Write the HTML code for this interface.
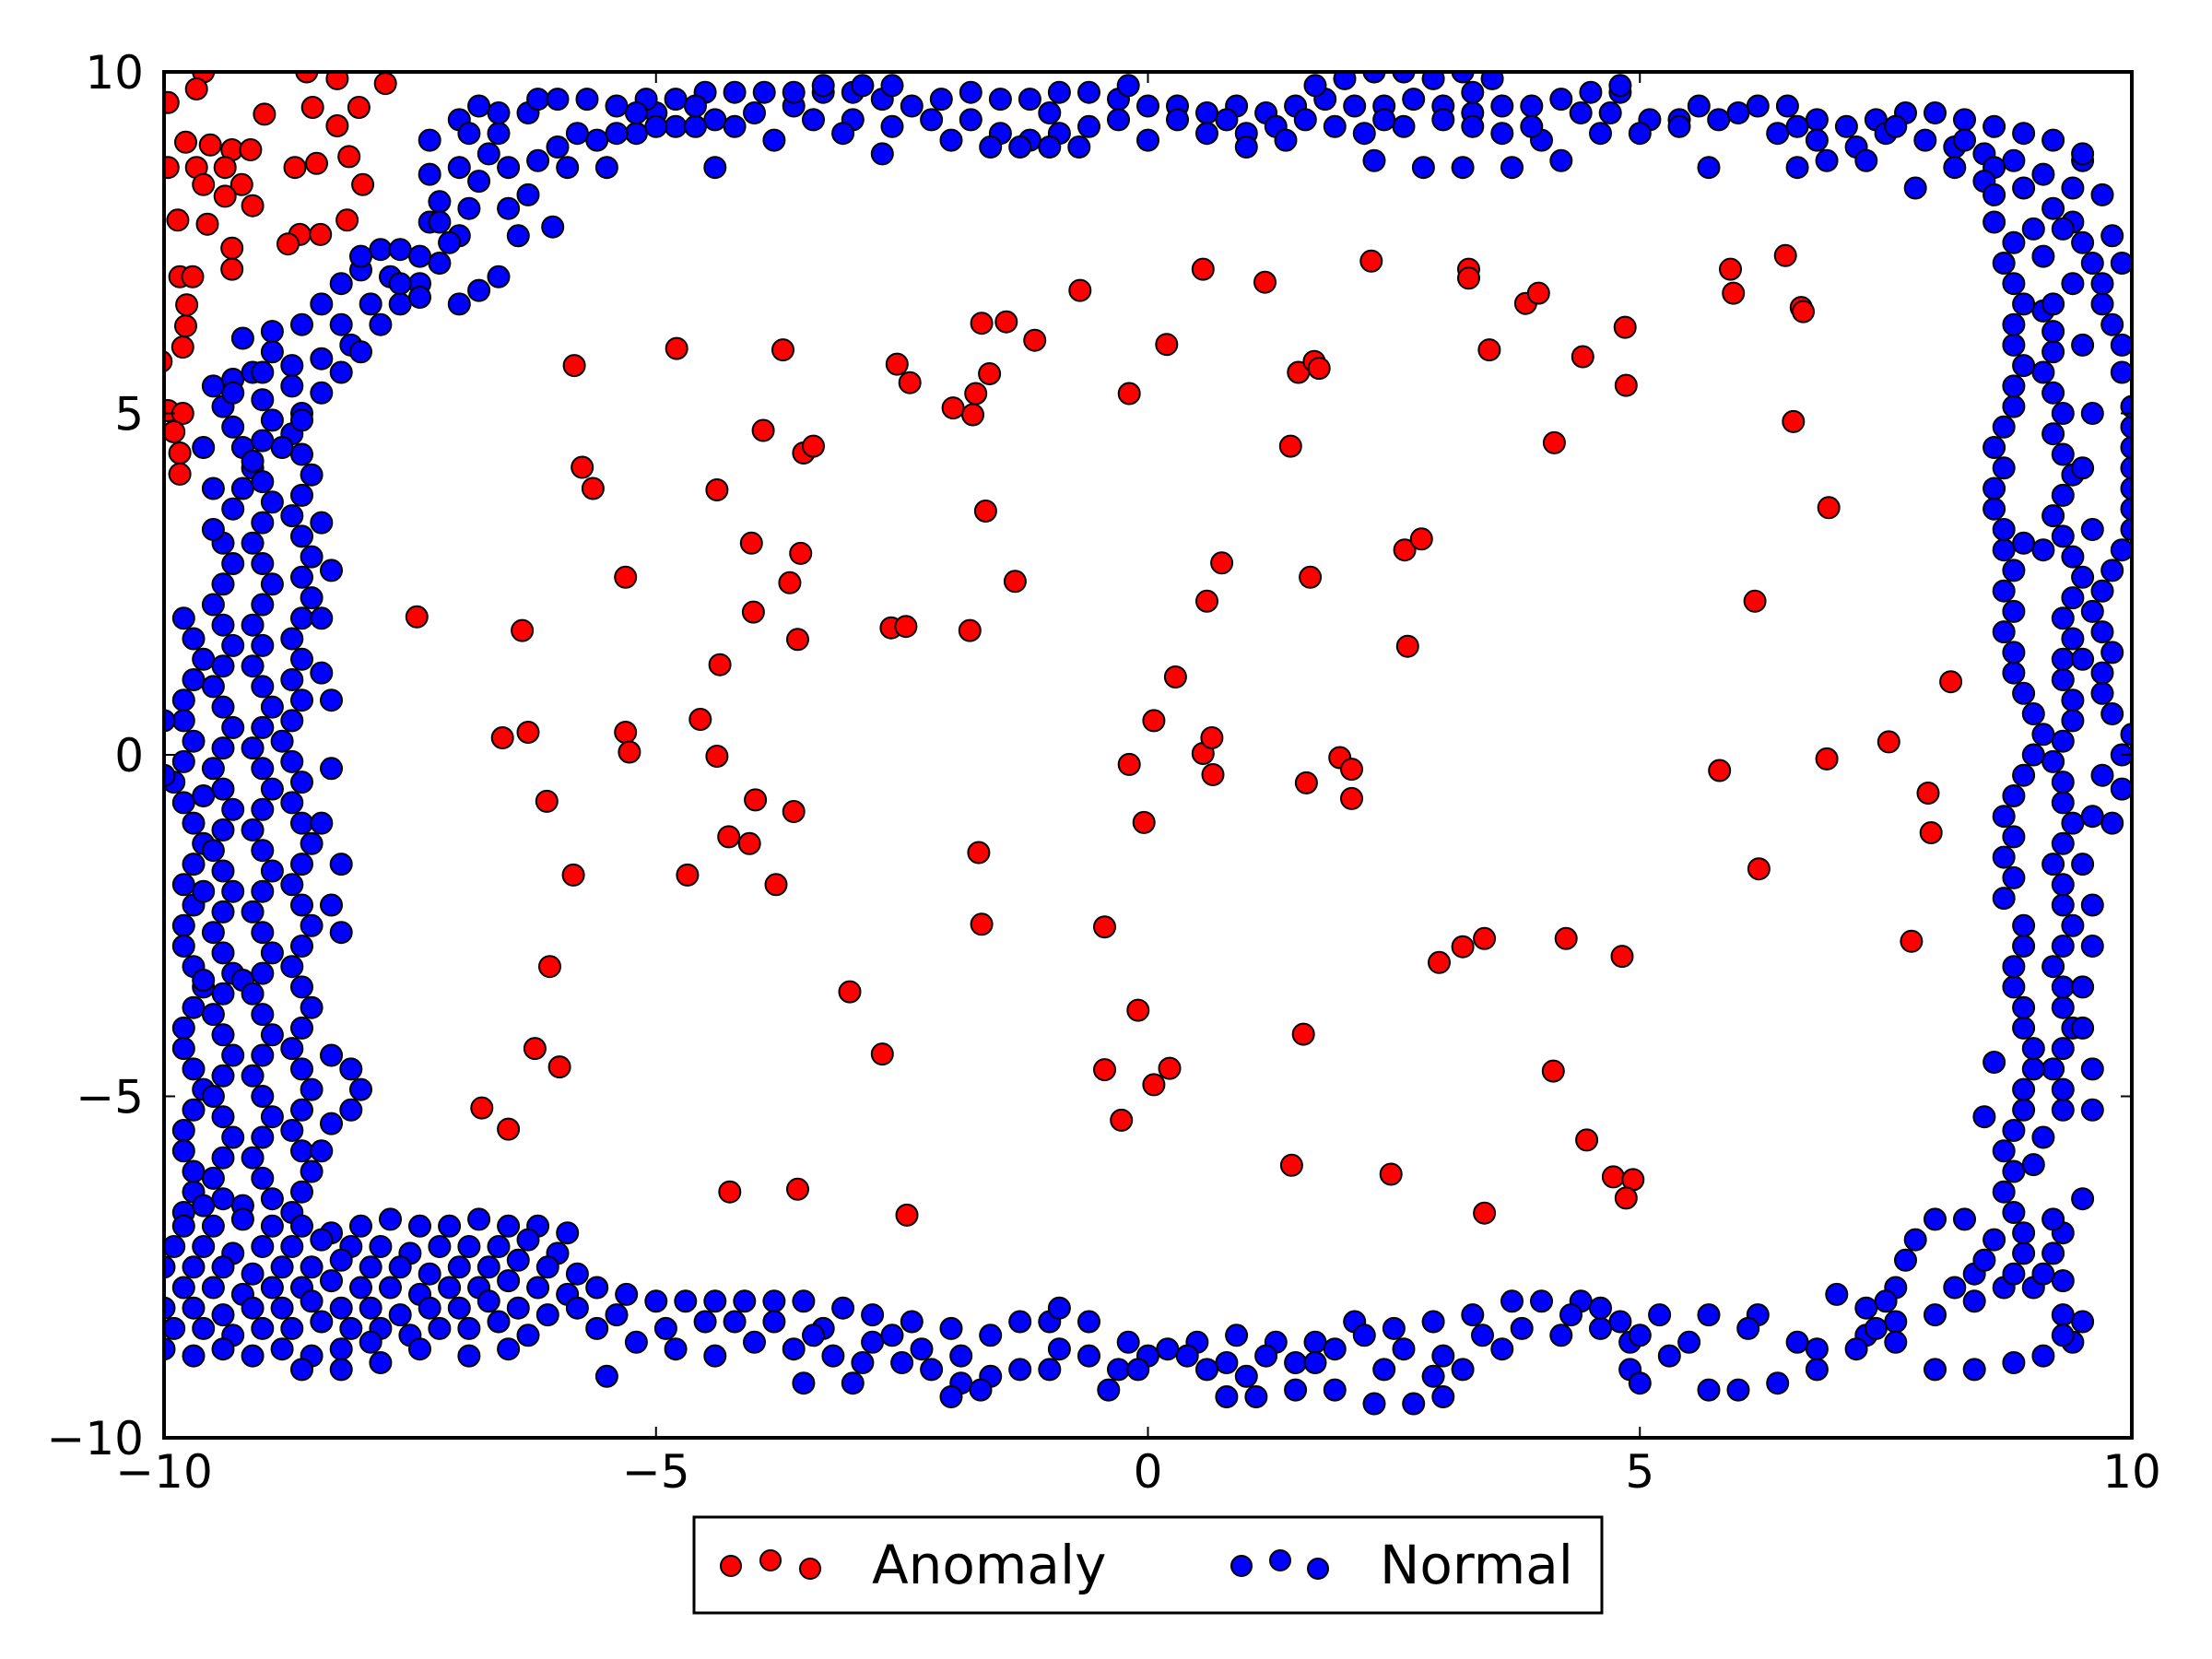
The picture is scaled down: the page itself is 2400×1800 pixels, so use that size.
<!DOCTYPE html>
<html><head><meta charset="utf-8"><style>
html,body{margin:0;padding:0;background:#fff;}
svg{display:block;font-family:"DejaVu Sans","Liberation Sans",sans-serif;}
</style></head><body>
<svg id="chart" width="2400" height="1800" viewBox="0 0 2400 1800" xmlns="http://www.w3.org/2000/svg">
<defs><clipPath id="plotclip"><rect x="178" y="78" width="2135" height="1482"/></clipPath></defs>
<rect x="0" y="0" width="2400" height="1800" fill="#fff"/>
<g id="marks" clip-path="url(#plotclip)"></g>
<rect x="178" y="78" width="2135" height="1482" fill="none" stroke="#000" stroke-width="4"/>
<g id="ticks"></g>
<g>
<rect x="753" y="1646" width="985" height="104" fill="#fff" stroke="#000" stroke-width="3"/>
<g>
<circle cx="793" cy="1699" r="11" fill="#ff0000" stroke="#000" stroke-width="2"/>
<circle cx="836" cy="1693" r="11" fill="#ff0000" stroke="#000" stroke-width="2"/>
<circle cx="879" cy="1702" r="11" fill="#ff0000" stroke="#000" stroke-width="2"/>
<text x="946" y="1718" font-size="58">Anomaly</text>
</g>
<g>
<circle cx="1347" cy="1699" r="11" fill="#0000ff" stroke="#000" stroke-width="2"/>
<circle cx="1389" cy="1693" r="11" fill="#0000ff" stroke="#000" stroke-width="2"/>
<circle cx="1430" cy="1702" r="11" fill="#0000ff" stroke="#000" stroke-width="2"/>
<text x="1497" y="1718" font-size="58">Normal</text>
</g>
</g>
</svg>
<script>
const xTicks = [-10, -5, 0, 5, 10];
const yTicks = [-10, -5, 0, 5, 10];
const xTickLabels = ["\u221210", "\u22125", "0", "5", "10"];
const yTickLabels = ["\u221210", "\u22125", "0", "5", "10"];
const anomalyPoints = [
[-9.6,10],[-8.55,10],[-8.24,9.9],[-7.75,9.83],[-9.96,9.55],[-9.67,9.75],[-8.98,9.38],[-8.49,9.48],[-8.24,9.21],[-8.02,9.48],
[-9.78,8.97],[-9.53,8.93],[-9.31,8.86],[-9.12,8.86],[-9.96,8.6],[-9.67,8.6],[-9.38,8.6],[-9.21,8.35],[-8.67,8.6],[-8.45,8.66],
[-8.12,8.76],[-7.98,8.35],[-9.6,8.35],[-9.38,8.18],[-9.1,8.04],[-9.86,7.83],[-9.56,7.77],[-8.14,7.83],[-8.62,7.62],[-8.41,7.62],
[-8.74,7.48],[-9.31,7.42],[-9.31,7.11],[-9.84,7.0],[-9.71,7.0],[-9.77,6.59],[-9.78,6.28],[-9.81,5.97],[-10.03,5.76],[-9.96,5.04],
[-9.81,5.0],[-9.9,4.73],[-9.84,4.42],[-9.84,4.11],
[-7.43,2.02],[-6.36,1.82],[-6.56,0.25],[-6.3,0.33],[-6.11,-0.68],[-5.84,-1.76],[-6.08,-3.1],[-6.23,-4.3],[-5.98,-4.57],[-6.77,-5.17],
[-6.5,-5.48],[-5.83,5.7],[-5.75,4.21],[-5.64,3.9],[-5.31,2.6],[-5.31,0.33],[-5.27,0.04],[-4.79,5.95],[-4.38,3.88],[-4.35,1.32],
[-4.55,0.52],[-4.38,-0.02],[-4.68,-1.76],[-4.26,-1.2],[-4.05,-1.3],[-3.99,-0.66],[-4.25,-6.4],[-3.71,5.93],[-3.91,4.75],[-3.5,4.42],
[-3.4,4.52],[-4.03,3.1],[-3.53,2.95],[-3.64,2.52],[-4.01,2.09],[-3.56,1.69],[-3.6,-0.83],[-3.78,-1.9],[-3.56,-6.36],[-3.03,-3.47],
[-2.7,-4.38],[-2.55,5.72],[-2.42,5.45],[-2.61,1.86],[-2.46,1.88],[-2.45,-6.74],[-1.98,5.08],[-1.78,4.98],[-1.75,5.29],[-1.69,6.32],
[-1.44,6.34],[-1.61,5.58],[-1.65,3.57],[-1.81,1.82],[-1.72,-1.43],[-1.69,-2.48],[-1.35,2.54],[-1.15,6.07],[-0.69,6.8],[-0.44,-2.52],
[-0.44,-4.61],[-0.27,-5.35],[-0.1,-3.74],[-0.19,5.29],[-0.19,-0.14],[-0.04,-0.99],[0.06,0.5],[0.06,-4.83],[0.22,-4.59],[0.19,6.01],
[0.28,1.14],[0.56,7.11],[0.6,2.25],[0.75,2.81],[0.56,0.02],[0.65,0.25],[0.66,-0.29],[1.19,6.92],[1.45,4.52],[1.53,5.6],
[1.69,5.76],[1.74,5.66],[1.65,2.6],[1.61,-0.41],[1.58,-4.09],[1.46,-6.01],[1.95,-0.04],[2.07,-0.21],[2.07,-0.64],[2.27,7.23],
[2.47,-6.14],[2.61,3.0],[2.78,3.16],[2.64,1.59],[2.96,-3.04],[3.2,-2.81],[3.42,-2.69],[3.26,7.11],[3.26,6.98],[3.47,5.93],
[3.42,-6.71],[3.84,6.61],[3.97,6.76],[4.13,4.57],[4.42,5.83],[4.25,-2.69],[4.12,-4.63],[4.46,-5.64],[4.73,-6.18],[4.82,-2.95],
[4.85,6.26],[4.86,5.41],[4.93,-6.22],[4.86,-6.49],[5.81,-0.23],[5.92,7.11],[5.95,6.76],[6.17,2.25],[6.21,-1.67],[6.48,7.31],
[6.56,4.88],[6.64,6.55],[6.66,6.49],[6.92,3.62],[6.9,-0.06],[7.53,0.19],[7.76,-2.73],[7.93,-0.56],[7.96,-1.14],[8.16,1.07]
];
const normalPoints = [
[-9.8,2.0],[-9.7,1.7],[-9.6,1.4],[-9.7,1.1],[-9.8,0.8],[-9.8,0.5],[-9.7,0.2],[-9.8,-0.1],[-9.9,-0.4],[-9.8,-0.7],[-9.7,-1.0],[-9.6,-1.3],[-9.7,-1.6],[-9.8,-1.9],[-9.7,-2.2],[-9.8,-2.5],[-9.8,-2.8],[-9.7,-3.1],[-9.6,-3.4],[-9.7,-3.7],[-9.8,-4.0],[-9.8,-4.3],[-9.7,-4.6],[-9.6,-4.9],[-9.7,-5.2],[-9.8,-5.5],[-9.8,-5.8],[-9.7,-6.1],[-9.7,-6.4],[-9.8,-6.7],
[-9.4,1.9],[-9.3,1.6],[-9.4,1.3],[-9.5,1.0],[-9.4,0.7],[-9.3,0.4],[-9.4,0.1],[-9.5,-0.2],[-9.4,-0.5],[-9.3,-0.8],[-9.4,-1.1],[-9.5,-1.4],[-9.4,-1.7],[-9.3,-2.0],[-9.4,-2.3],[-9.5,-2.6],[-9.4,-2.9],[-9.3,-3.2],[-9.4,-3.5],[-9.5,-3.8],[-9.4,-4.1],[-9.3,-4.4],[-9.4,-4.7],[-9.5,-5.0],[-9.4,-5.3],[-9.3,-5.6],[-9.4,-5.9],[-9.5,-6.2],[-9.4,-6.5],
[-9.6,-3.3],[-9.2,-3.3],[-9.6,-6.6],[-9.2,-6.6],[-10.0,0.5],[-10.0,-0.3],
[-9.5,2.2],[-9.4,2.5],[-9.3,2.8],[-9.4,3.1],[-9.5,3.3],[-9.3,3.6],[-9.2,3.9],[-9.1,4.2],[-9.2,4.5],[-9.3,4.8],[-9.4,5.1],[-9.5,5.4],[-9.3,5.5],[-9.1,5.6],
[-9.0,5.2],[-8.9,4.9],[-9.0,4.6],[-9.1,4.3],[-9.0,4.0],[-8.9,3.7],[-9.0,3.4],[-9.1,3.1],[-9.0,2.8],[-8.9,2.5],[-9.0,2.2],[-9.1,1.9],[-9.0,1.6],[-9.1,1.3],[-9.0,1.0],[-8.9,0.7],[-9.0,0.4],[-9.1,0.1],[-9.0,-0.2],[-8.9,-0.5],[-9.0,-0.8],[-9.1,-1.1],[-9.0,-1.4],[-8.9,-1.7],[-9.0,-2.0],[-9.1,-2.3],[-9.0,-2.6],[-8.9,-2.9],[-9.0,-3.2],[-9.1,-3.5],[-9.0,-3.8],[-8.9,-4.1],[-9.0,-4.4],[-9.1,-4.7],[-9.0,-5.0],[-8.9,-5.3],[-9.0,-5.6],[-9.1,-5.9],[-9.0,-6.2],[-8.9,-6.5],
[-8.6,5.0],[-8.7,4.7],[-8.6,4.4],[-8.5,4.1],[-8.6,3.8],[-8.7,3.5],[-8.6,3.2],[-8.5,2.9],[-8.6,2.6],[-8.5,2.3],[-8.6,2.0],[-8.7,1.7],[-8.6,1.4],[-8.7,1.1],[-8.6,0.8],[-8.7,0.5],[-8.8,0.2],[-8.7,-0.1],[-8.6,-0.4],[-8.7,-0.7],[-8.6,-1.0],[-8.5,-1.3],[-8.6,-1.6],[-8.7,-1.9],[-8.6,-2.2],[-8.5,-2.5],[-8.6,-2.8],[-8.7,-3.1],[-8.6,-3.4],[-8.5,-3.7],[-8.6,-4.0],[-8.7,-4.3],[-8.6,-4.6],[-8.5,-4.9],[-8.6,-5.2],[-8.7,-5.5],[-8.6,-5.8],[-8.5,-6.1],[-8.6,-6.4],[-8.7,-6.7],
[-8.4,3.4],[-8.3,2.7],[-8.3,-2.2],[-8.2,-2.6],[-8.3,-4.4],[-8.1,-4.6],[-8.0,-4.9],[-8.1,-5.2],[-8.3,-5.4],[-8.4,-5.8],[-8.4,2.0],[-8.4,1.2],[-8.3,0.8],
[-8.3,-0.2],[-8.4,-1.0],[-8.2,-1.6],[-9.6,4.5],[-9.5,3.9],[-9.6,-0.6],[-9.6,-2.0],
[-9.3,5.3],[-9.0,5.6],[-8.7,5.7],[-8.4,5.8],[-8.1,6.0],[-7.8,6.3],[-7.6,6.6],[-7.4,6.9],[-7.2,7.2],[-7.0,7.6],[-6.9,8.0],[-6.8,8.4],[-6.7,8.8],[-6.6,9.1],[-6.3,9.4],
[-8.8,4.5],[-8.6,4.9],[-8.4,5.3],[-8.2,5.6],[-8.0,5.9],
[-9.2,6.1],[-8.9,6.2],[-8.6,6.3],[-8.4,6.6],[-8.2,6.9],[-8.0,7.1],[-7.8,7.4],[-7.6,7.4],[-7.4,7.3],[-7.1,7.5],[-7.3,7.8],[-7.2,8.1],[-7.3,8.5],[-7.3,9.0],[-7.0,9.3],[-6.6,9.4],[-6.2,9.6],
[-8.0,7.3],[-7.7,7.0],[-7.4,6.7],[-7.0,6.6],[-6.8,6.8],[-6.6,7.0],[-6.4,7.6],[-6.3,8.2],[-6.2,8.7],[-6.0,8.9],[-5.6,9.0],[-5.2,9.1],[-4.8,9.2],[-4.4,9.3],[-4.0,9.4],[-3.6,9.5],[-6.05,7.73],[-4.4,8.6],
[-7.9,6.6],[-7.6,6.9],[-7.2,7.8],[-7.0,8.6],[-6.9,9.1],[-6.5,8.0],[-6.5,8.6],[-8.2,6.3],[-8.7,5.4],[-8.9,5.9],[-6.8,9.5],[-5.0,9.4],
[-9.8,-6.9],[-9.5,-6.9],[-9.2,-6.8],[-8.9,-6.9],[-8.6,-6.9],[-8.3,-7.0],[-8.0,-6.9],[-7.7,-6.8],[-7.4,-6.9],[-7.1,-6.9],[-6.8,-6.8],[-6.5,-6.9],[-6.2,-6.9],[-5.9,-7.0],
[-9.9,-7.2],[-9.6,-7.2],[-9.3,-7.3],[-9.0,-7.2],[-8.7,-7.2],[-8.4,-7.1],[-8.1,-7.2],[-7.8,-7.2],[-7.5,-7.3],[-7.2,-7.2],[-6.9,-7.2],[-6.6,-7.2],[-6.3,-7.1],[-6.0,-7.3],
[-10.0,-7.5],[-9.7,-7.5],[-9.4,-7.5],[-9.1,-7.6],[-8.8,-7.5],[-8.5,-7.5],[-8.2,-7.4],[-7.9,-7.5],[-7.6,-7.5],[-7.3,-7.6],[-7.0,-7.5],[-6.7,-7.5],[-6.4,-7.4],[-6.1,-7.5],[-5.8,-7.6],
[-9.8,-7.8],[-9.5,-7.8],[-9.2,-7.9],[-8.9,-7.8],[-8.6,-7.8],[-8.3,-7.7],[-8.0,-7.8],[-7.7,-7.8],[-7.4,-7.9],[-7.1,-7.8],[-6.8,-7.8],[-6.5,-7.7],[-6.2,-7.8],[-5.9,-7.9],[-5.6,-7.8],
[-10.0,-8.1],[-9.7,-8.1],[-9.4,-8.2],[-9.1,-8.1],[-8.8,-8.1],[-8.5,-8.0],[-8.2,-8.1],[-7.9,-8.1],[-7.6,-8.2],[-7.3,-8.1],[-7.0,-8.1],[-6.7,-8.0],[-6.4,-8.1],[-6.1,-8.2],
[-9.9,-8.4],[-9.6,-8.4],[-9.3,-8.5],[-9.0,-8.4],[-8.7,-8.4],[-8.4,-8.3],[-8.1,-8.4],[-7.8,-8.4],[-7.5,-8.5],[-7.2,-8.4],[-6.9,-8.4],[-6.6,-8.3],[-6.3,-8.5],
[-10.0,-8.7],[-9.7,-8.8],[-9.4,-8.7],[-9.1,-8.8],[-8.8,-8.7],[-8.5,-8.8],[-8.2,-8.7],[-7.9,-8.6],[-7.4,-8.7],[-6.9,-8.8],[-6.5,-8.7],[-8.6,-9.0],[-8.2,-9.0],[-7.8,-8.9],
[-5.3,-7.9],[-5.0,-8.0],[-4.7,-8.0],[-4.4,-8.0],[-4.1,-8.0],[-3.8,-8.0],[-3.5,-8.0],[-3.1,-8.1],[-2.8,-8.2],[-2.4,-8.3],[-2.0,-8.4],[-1.6,-8.5],[-1.3,-8.3],[-1.0,-8.3],[-0.6,-8.3],[-0.2,-8.6],[0.2,-8.7],[0.5,-8.6],[0.9,-8.5],[1.3,-8.6],[1.7,-8.6],[2.1,-8.3],[2.5,-8.4],[2.9,-8.3],[3.3,-8.2],[3.7,-8.0],[4.0,-8.0],[4.4,-8.0],[4.8,-8.3],[5.2,-8.2],[5.7,-8.2],[6.2,-8.2],[6.6,-8.6],[7.0,-7.9],[7.3,-8.1],[7.6,-8.3],[8.0,-8.2],[8.4,-8.0],[8.7,-7.8],[9.0,-7.8],[9.3,-7.7],
[-5.6,-8.4],[-5.2,-8.6],[-4.8,-8.7],[-4.4,-8.8],[-4.0,-8.6],[-3.6,-8.7],[-3.2,-8.8],[-2.8,-8.6],[-2.5,-8.9],[-2.2,-9.0],[-1.9,-9.2],[-1.6,-9.1],[-1.3,-9.0],[-0.9,-8.7],[-0.6,-8.8],[-0.3,-9.0],[0.0,-8.8],[0.4,-8.8],[0.8,-8.9],[1.2,-8.8],[1.5,-8.9],[1.9,-8.7],[2.2,-8.5],[2.6,-8.7],[3.0,-8.8],[3.4,-8.5],[3.8,-8.4],[4.2,-8.5],[4.6,-8.4],[4.9,-8.6],[5.3,-8.8],[5.7,-9.3],[6.0,-9.3],[6.4,-9.2],[6.8,-8.7],[7.3,-8.5],[7.6,-8.6],[8.0,-9.0],[8.4,-9.0],[8.8,-8.9],[9.1,-8.8],[9.4,-8.6],[9.5,-8.3],
[-5.5,-9.1],[-3.5,-9.2],[-3.0,-9.2],[-2.0,-9.4],[-1.7,-9.3],[-0.4,-9.3],[0.8,-9.4],[1.1,-9.4],[1.5,-9.3],[1.9,-9.3],[2.3,-9.5],[2.7,-9.5],[3.0,-9.4],[2.9,-9.1],[4.9,-9.0],[5.0,-9.2],
[-4.5,-8.3],[-3.8,-8.3],[-3.3,-8.4],[-2.6,-8.5],[-0.9,-8.1],
[-5.8,-8.1],[-5.4,-8.2],[-4.9,-8.4],[-4.2,-8.3],[-3.4,-8.5],[-2.9,-8.9],[-2.3,-8.7],[-1.9,-8.8],[-1.0,-9.0],[-0.1,-9.0],[0.6,-9.0],[1.0,-9.1],[1.7,-8.9],[2.4,-9.0],[3.2,-9.0],[3.6,-8.7],[4.3,-8.2],[4.6,-8.1],[5.0,-8.5],[5.5,-8.6],[6.1,-8.4],[6.8,-9.0],[7.2,-8.7],
[9.3,-5.2],[9.3,-4.9],[9.2,-4.6],[9.3,-4.3],[9.4,-4.0],[9.3,-3.7],[9.3,-3.4],[9.2,-3.1],[9.3,-2.8],[9.4,-2.5],[9.3,-2.2],[9.3,-1.9],[9.2,-1.6],[9.3,-1.3],[9.4,-1.0],[9.3,-0.7],[9.3,-0.4],[9.2,-0.1],[9.3,0.2],[9.4,0.5],[9.4,0.8],[9.3,1.1],[9.3,1.4],[9.4,1.7],[9.3,2.0],[9.4,2.3],[9.5,2.6],[9.4,2.9],[9.3,3.2],[9.2,3.5],[9.3,3.8],[9.4,4.1],[9.3,4.4],[9.2,4.7],[9.3,5.0],[9.2,5.3],[9.1,5.6],[9.2,5.9],[9.2,6.2],[9.1,6.5],
[9.6,-5.2],[9.6,-4.6],[9.5,-4.0],[9.5,-3.4],[9.6,-2.8],[9.6,-2.2],[9.5,-1.6],[9.6,-0.9],
[8.8,-7.6],[8.9,-7.3],[8.9,-7.0],[8.8,-6.7],[8.7,-6.4],[8.8,-6.1],[8.7,-5.8],[8.8,-5.5],[8.9,-5.2],[8.9,-4.9],[9.0,-4.6],[9.0,-4.3],[8.9,-4.0],[8.9,-3.7],[8.8,-3.4],[8.8,-3.1],[8.9,-2.8],[8.9,-2.5],[8.7,-2.1],[8.8,-1.8],[8.7,-1.5],[8.8,-1.2],[8.7,-0.9],[8.8,-0.6],[8.9,-0.3],[9.0,0.0],[9.1,0.3],[9.0,0.6],[8.9,0.9],[8.8,1.2],[8.8,1.5],[8.7,1.8],[8.8,2.1],[8.7,2.4],[8.8,2.7],[8.7,3.0],[8.7,3.3],[8.6,3.6],[8.6,3.9],[8.7,4.2],[8.6,4.5],[8.7,4.8],[8.8,5.1],[8.8,5.4],[8.9,5.7],[8.8,6.0],[8.8,6.3],[8.9,6.6],[8.8,6.9],[8.7,7.2],[8.8,7.5],[9.0,7.7],
[9.8,-1.0],[9.9,-0.5],[9.9,0.0],[10.0,0.3],[9.8,0.6],[9.7,0.9],[9.7,1.2],[9.8,1.5],[9.7,1.8],[9.6,2.1],[9.7,2.4],[9.8,2.7],[9.9,3.0],[10.0,3.3],[10.0,3.6],[10.0,3.9],[10.0,4.2],[10.0,4.5],[10.0,4.8],[10.0,5.1],[9.9,5.6],[9.9,6.0],[9.8,6.3],[9.7,6.6],[9.7,6.9],[9.6,7.2],[9.5,7.5],[9.4,7.8],[9.2,8.0],[9.4,8.3],[9.7,8.2],[9.8,7.6],[9.9,7.2],[9.5,8.7],
[9.3,7.7],[9.2,6.6],[8.9,3.1],[9.1,3.0],
[9.5,-6.5],[9.0,-6.0],[9.1,-5.6],[9.5,1.4],[9.6,3.3],[9.5,4.2],[9.6,5.0],[9.5,6.0],[9.4,6.9],[9.1,7.3],[8.6,7.8],[9.7,-0.3],[8.6,-4.5],[8.5,-5.3],
[8.2,-7.8],[8.4,-7.6],[8.5,-7.4],[8.6,-7.1],[8.3,-6.8],[8.0,-6.8],[7.8,-7.1],[7.7,-7.4],[7.6,-7.8],[7.4,-8.4],[7.5,-8.0],[9.1,-7.6],[9.2,-7.3],[9.3,-7.0],[9.2,-6.8],[9.3,-8.2],[9.3,-8.5],
[-6.0,9.6],[-5.7,9.6],[-5.4,9.5],[-5.1,9.6],[-4.8,9.6],[-4.5,9.7],[-4.2,9.7],[-3.9,9.7],[-3.6,9.7],[-3.3,9.7],[-3.0,9.7],[-2.7,9.6],[-2.4,9.5],[-2.1,9.6],[-1.8,9.7],[-1.5,9.6],[-1.2,9.6],[-0.9,9.7],[-0.6,9.7],[-0.3,9.6],[0.0,9.5],[0.3,9.5],[0.6,9.4],[0.9,9.5],[1.2,9.4],[1.5,9.5],[1.8,9.6],[2.1,9.5],[2.4,9.5],[2.7,9.6],[3.0,9.5],[3.3,9.4],[3.6,9.5],[3.9,9.5],[4.2,9.6],[4.5,9.7],[4.8,9.7],[5.1,9.3],[5.4,9.3],[5.8,9.3],[6.2,9.5],[6.5,9.5],[6.8,9.3],[7.1,9.2],[7.4,9.3],[7.7,9.4],[8.0,9.4],[8.3,9.3],[8.6,9.2],[8.9,9.1],[9.2,9.0],[9.5,8.8],
[-2.9,9.8],[-2.6,9.8],[-3.3,9.8],[1.7,9.8],[2.0,9.9],[2.3,10.0],[2.6,10.0],[2.9,9.9],[3.2,10.0],[3.5,9.9],[4.8,9.8],[-0.2,9.8],
[-5.8,9.1],[-5.4,9.1],[-5.0,9.2],[-4.6,9.2],[-4.2,9.2],[-3.8,9.0],[-3.4,9.3],[-3.0,9.3],[-2.6,9.2],[-2.2,9.3],[-1.8,9.3],[-1.5,9.1],[-1.2,9.0],[-0.9,9.1],[-0.6,9.2],[-0.3,9.3],[0.0,9.0],[0.3,9.3],[0.6,9.1],[1.0,9.1],[1.3,9.2],[1.6,9.3],[1.9,9.2],[2.2,9.1],[2.6,9.2],[3.0,9.3],[3.3,9.2],[3.6,9.1],[4.0,9.0],[4.4,9.4],[4.7,9.4],[5.0,9.1],[5.4,9.2],[6.0,9.4],[6.4,9.1],[6.8,9.0],[7.2,8.9],[7.5,9.1],[7.9,9.0],[8.2,8.9],[8.5,8.8],[8.8,8.7],
[-5.2,9.4],[-4.6,9.5],[-3.1,9.1],[-2.0,9.0],[-1.0,9.4],[0.8,9.3],[1.4,9.0],[2.4,9.3],[3.3,9.7],[3.9,9.2],[4.6,9.1],[5.6,9.5],[6.6,9.2],[7.6,9.2],[8.3,9.0],[8.6,8.6],
[-5.9,8.6],[-5.5,8.6],[-2.7,8.8],[-1.6,8.9],[-1.3,8.9],[-1.0,8.9],[-0.7,8.9],[1.0,8.9],[2.3,8.7],[2.8,8.6],[3.2,8.6],[3.7,8.6],[4.2,8.7],[5.7,8.6],[6.6,8.6],[6.9,8.7],[7.3,8.7],[7.8,8.3],[8.2,8.6],[8.5,8.4],[8.6,8.2],[8.9,8.3],[9.1,8.5]
];

const X0 = 178, X1 = 2313, Y0 = 78, Y1 = 1560;
const xMin = -10, xMax = 10, yMin = -10, yMax = 10;
function sx(v){ return X0 + (v - xMin) / (xMax - xMin) * (X1 - X0); }
function sy(v){ return Y1 - (v - yMin) / (yMax - yMin) * (Y1 - Y0); }
const NS = "http://www.w3.org/2000/svg";
const marks = document.getElementById('marks');
const ticks = document.getElementById('ticks');

function drawSeries(points, color, name){
  const g = document.createElementNS(NS, 'g');
  
  
  points.forEach(function(p){
    const c = document.createElementNS(NS, 'circle');
    c.setAttribute('cx', sx(p[0]).toFixed(1));
    c.setAttribute('cy', sy(p[1]).toFixed(1));
    c.setAttribute('r', 11.5);
    c.setAttribute('fill', color);
    c.setAttribute('stroke', '#000');
    c.setAttribute('stroke-width', 2);
    
    
    g.appendChild(c);
  });
  marks.appendChild(g);
}
drawSeries(anomalyPoints, '#ff0000', 'anomaly-series');
drawSeries(normalPoints, '#0000ff', 'normal-series');

function line(x1,y1,x2,y2){
  const l = document.createElementNS(NS, 'line');
  l.setAttribute('x1', x1); l.setAttribute('y1', y1);
  l.setAttribute('x2', x2); l.setAttribute('y2', y2);
  l.setAttribute('stroke', '#000'); l.setAttribute('stroke-width', 2);
  
  
  ticks.appendChild(l);
}
xTicks.forEach(function(v, i){
  const x = sx(v);
  line(x, Y1, x, Y1 - 12);
  line(x, Y0, x, Y0 + 12);
  const t = document.createElementNS(NS, 'text');
  t.setAttribute('x', x); t.setAttribute('y', 1614);
  t.setAttribute('text-anchor', 'middle');
  t.setAttribute('font-size', 50);
  
  
  t.textContent = xTickLabels[i];
  ticks.appendChild(t);
});
yTicks.forEach(function(v, i){
  const y = sy(v);
  line(X0, y, X0 + 12, y);
  line(X1, y, X1 - 12, y);
  const t = document.createElementNS(NS, 'text');
  t.setAttribute('x', 156); t.setAttribute('y', y + 18);
  t.setAttribute('text-anchor', 'end');
  t.setAttribute('font-size', 50);
  
  
  t.textContent = yTickLabels[i];
  ticks.appendChild(t);
});
</script>
</body></html>
